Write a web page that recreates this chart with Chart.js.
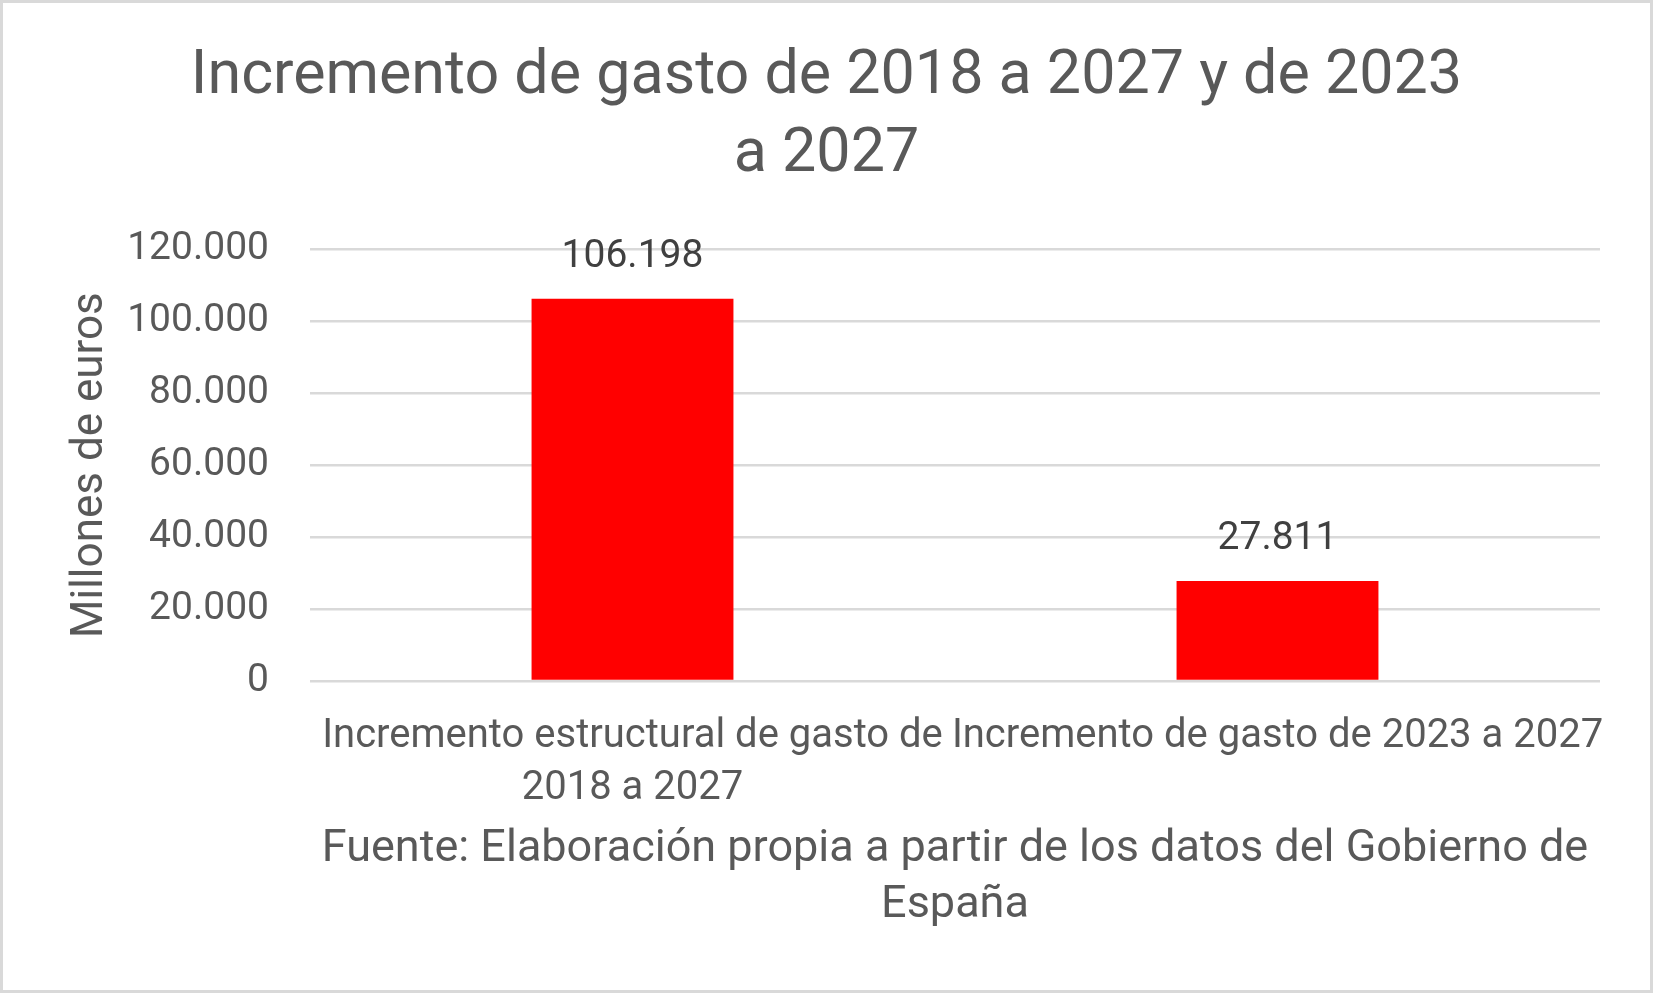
<!DOCTYPE html>
<html>
<head>
<meta charset="utf-8">
<script src="https://cdn.jsdelivr.net/npm/chart.js@4.4.1/dist/chart.umd.min.js"></script>
<style>
  html, body { margin: 0; padding: 0; background: #fff; }
  #wrap { width: 1653px; height: 993px; box-sizing: border-box; border: 3px solid #d9d9d9; background: #fff; }
  #chart { display: block; }
</style>
</head>
<body>
<div id="wrap"><canvas id="chart"></canvas></div>
<script>
// chart data
const categories = [
  ['Incremento estructural de gasto de', '2018 a 2027'],
  'Incremento de gasto de 2023 a 2027'
];
const values = [106198, 27811];
const yTickValues = [0, 20000, 40000, 60000, 80000, 100000, 120000];

const chartTitle = ['Incremento de gasto de 2018 a 2027 y de 2023', 'a 2027'];
const yTitle = 'Millones de euros';
const xTitle = ['Fuente: Elaboración propia a partir de los datos del Gobierno de', 'España'];

const GREY = '#595959';
const GRID = '#d9d9d9';
const FONT = 'Roboto';

// 120000 -> "120.000"
const fmt = v => String(v).replace(/\B(?=(\d{3})+(?!\d))/g, '.');

const barLabels = {
  id: 'barLabels',
  afterDatasetsDraw(chart) {
    const ctx = chart.ctx;
    const meta = chart.getDatasetMeta(0);
    ctx.save();
    ctx.font = '39px ' + FONT;
    ctx.fillStyle = '#404040';
    ctx.textAlign = 'center';
    ctx.textBaseline = 'alphabetic';
    meta.data.forEach((bar, i) => {
      ctx.fillText(fmt(values[i]), bar.x, bar.y - 32);
    });
    ctx.restore();
  }
};

new Chart(document.getElementById('chart'), {
  type: 'bar',
  data: {
    labels: categories,
    datasets: [{
      data: values,
      backgroundColor: '#ff0000',
      borderWidth: 0,
      categoryPercentage: 1,
      barPercentage: 0.313
    }]
  },
  options: {
    responsive: true,
    maintainAspectRatio: false,
    animation: false,
    devicePixelRatio: 1,
    layout: { padding: 0 },
    plugins: {
      legend: { display: false },
      tooltip: { enabled: false },
      title: {
        display: true,
        text: chartTitle,
        color: GREY,
        font: { family: FONT, size: 61, weight: 'normal', lineHeight: 1.28 },
        padding: { top: 36, bottom: 54 }
      }
    },
    scales: {
      x: {
        grid: { display: false },
        border: { display: false },
        ticks: {
          color: GREY,
          font: { family: FONT, size: 40, lineHeight: 1.3 },
          padding: 22,
          maxRotation: 0,
          minRotation: 0,
          autoSkip: false
        },
        title: {
          display: true,
          text: xTitle,
          color: GREY,
          font: { family: FONT, size: 45, lineHeight: 1.25 },
          padding: { top: 0, bottom: 56 }
        },
        afterFit(scale) { scale.height = 309; }
      },
      y: {
        min: 0,
        max: 120000,
        afterBuildTicks(scale) { scale.ticks = yTickValues.map(v => ({ value: v })); },
        grid: { color: GRID, lineWidth: 2.5, drawTicks: false },
        border: { display: false },
        ticks: {
          color: GREY,
          font: { family: FONT, size: 39 },
          padding: 41,
          callback: v => fmt(v)
        },
        title: {
          display: true,
          text: yTitle,
          color: GREY,
          font: { family: FONT, size: 44, lineHeight: 1.2 },
          padding: { top: 62, bottom: 0 }
        },
        afterFit(scale) { scale.width = 307; }
      },
      // empty right-hand strip so the plot ends before the right edge
      spacer: {
        type: 'linear',
        position: 'right',
        display: true,
        grid: { display: false },
        border: { display: false },
        ticks: { display: false },
        afterFit(scale) { scale.width = 50; }
      }
    }
  },
  plugins: [barLabels]
});
</script>
</body>
</html>
